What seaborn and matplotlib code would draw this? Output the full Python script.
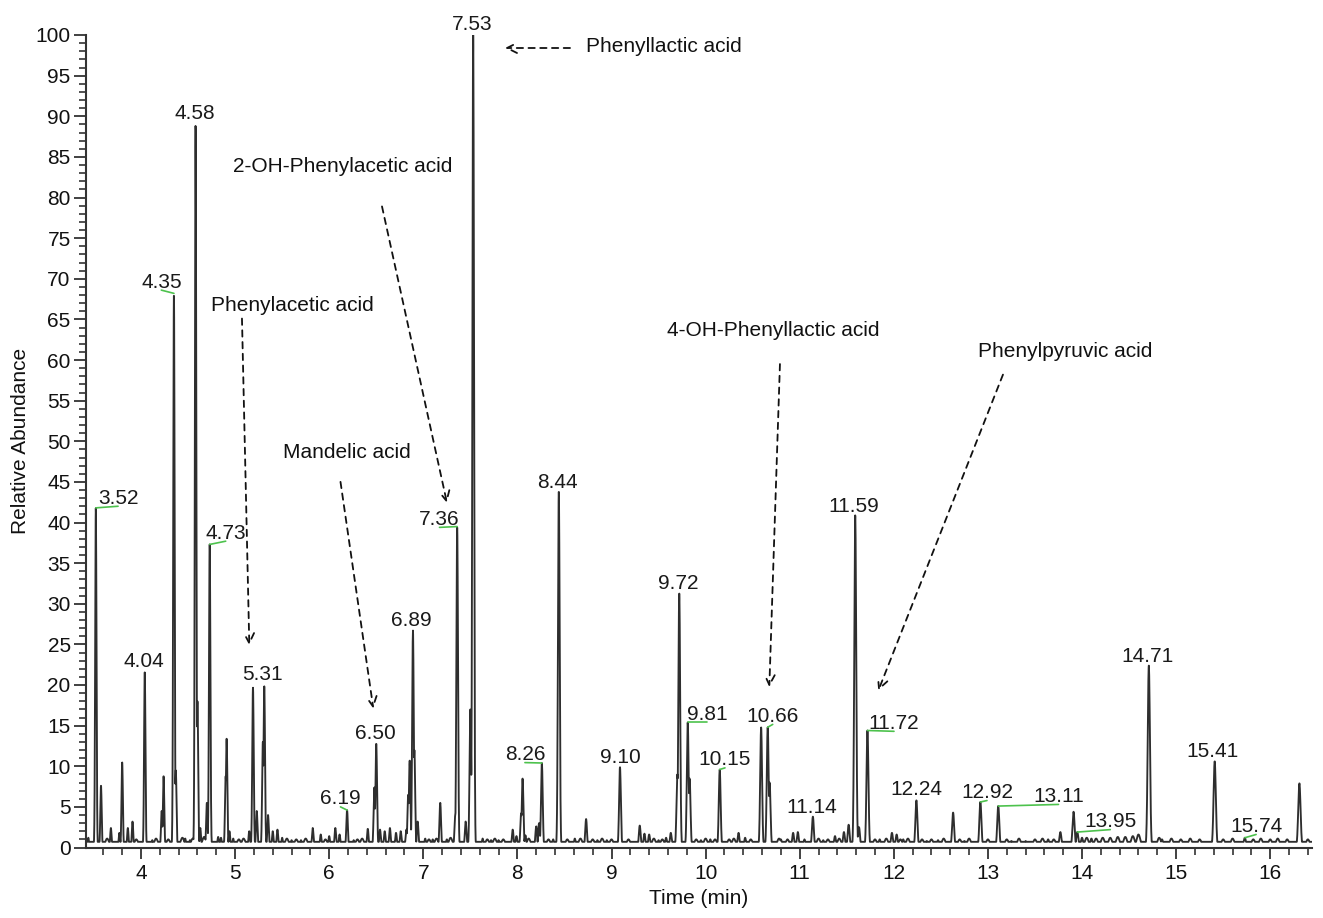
import numpy as np
import pandas as pd
import matplotlib
matplotlib.use("Agg")
import matplotlib.pyplot as plt
from matplotlib.ticker import MultipleLocator
import seaborn as sns

# ---------------- data ----------------
peak_times = [3.44, 3.52, 3.575, 3.68, 3.77, 3.80, 3.86, 3.91, 4.04, 4.12,
              4.22, 4.24, 4.35, 4.37, 4.47, 4.52, 4.58, 4.60, 4.63, 4.70,
              4.73, 4.82, 4.85, 4.90, 4.91, 4.94, 4.98, 5.15, 5.19, 5.23,
              5.295, 5.31, 5.35, 5.40, 5.45, 5.50, 5.60, 5.70, 5.825, 5.91,
              6.00, 6.065, 6.11, 6.19, 6.26, 6.41, 6.48, 6.50, 6.54, 6.59,
              6.645, 6.71, 6.76, 6.82, 6.84, 6.855, 6.89, 6.905, 6.94, 7.02,
              7.10, 7.18, 7.25, 7.34, 7.36, 7.45, 7.50, 7.53, 7.63, 7.72,
              7.80, 7.95, 7.99, 8.04, 8.055, 8.085, 8.20, 8.23, 8.26, 8.38,
              8.44, 8.61, 8.73, 8.85, 8.95, 9.09, 9.30, 9.35, 9.40, 9.50,
              9.58, 9.63, 9.70, 9.72, 9.81, 9.83, 9.95, 10.05, 10.15, 10.35,
              10.42, 10.59, 10.66, 10.68, 10.80, 10.93, 10.98, 11.05, 11.14, 11.25,
              11.375, 11.47, 11.52, 11.59, 11.63, 11.72, 11.85, 11.98, 12.03, 12.10,
              12.24, 12.35, 12.47, 12.63, 12.75, 12.92, 13.11, 13.25, 13.40, 13.64,
              13.77, 13.91, 13.95, 14.00, 14.10, 14.71, 14.85, 15.41, 15.73, 16.31]
peak_heights = [1.2, 41.8, 7.6, 2.4, 1.8, 10.5, 2.4, 3.2, 21.6, 0.9,
                4.5, 8.8, 68.2, 9.5, 1.1, 0.9, 89.0, 18.0, 2.4, 5.5,
                37.3, 1.3, 1.2, 8.8, 13.4, 2.0, 1.1, 2.0, 19.7, 4.5,
                13.0, 19.9, 4.0, 2.0, 2.2, 1.2, 0.9, 0.9, 2.4, 1.6,
                1.4, 2.4, 1.6, 4.6, 0.9, 2.3, 7.4, 12.8, 2.2, 2.0,
                2.4, 1.8, 2.0, 2.2, 6.5, 10.7, 26.7, 12.0, 3.2, 1.1,
                1.0, 5.5, 1.0, 4.0, 39.5, 3.2, 17.0, 100.0, 1.1, 0.9,
                0.9, 2.2, 1.4, 4.2, 8.5, 1.5, 2.6, 3.0, 10.4, 1.0,
                43.9, 1.1, 3.5, 0.9, 0.9, 9.9, 2.7, 1.7, 1.6, 0.9,
                1.2, 1.8, 9.0, 31.3, 15.4, 8.5, 0.9, 1.0, 9.6, 1.8,
                1.2, 14.8, 14.8, 8.0, 1.0, 1.8, 1.9, 1.0, 3.8, 0.9,
                1.4, 1.9, 2.8, 40.9, 2.5, 14.4, 1.0, 1.8, 1.6, 1.0,
                5.8, 0.8, 0.9, 4.3, 0.8, 5.6, 5.1, 0.8, 0.8, 1.0,
                1.9, 4.4, 1.9, 1.2, 1.1, 22.4, 1.0, 10.6, 1.2, 7.9]
# low ripples of the baseline (time, height)
ripple_times = [3.64, 3.95, 4.16, 4.29, 4.44, 4.55, 4.67, 5.04, 5.09, 5.55,
                5.65, 5.75, 5.96, 6.30, 6.35, 7.06, 7.14, 7.29, 7.68, 7.76,
                7.85, 8.12, 8.33, 8.53, 8.67, 8.80, 8.90, 9.00, 9.18, 9.45,
                9.54, 9.90, 10.00, 10.10, 10.25, 10.30, 10.48, 10.78, 10.87, 11.20,
                11.30, 11.42, 11.80, 11.92, 12.07, 12.15, 12.30, 12.40, 12.53, 12.70,
                12.80, 13.00, 13.20, 13.33, 13.50, 13.58, 13.70, 14.05, 14.15, 14.22,
                14.30, 14.38, 14.46, 14.54, 14.60, 14.82, 14.95, 15.05, 15.15, 15.25,
                15.50, 15.60, 15.82, 15.90, 16.00, 16.08, 16.18, 16.40]
ripple_heights = [1.1, 1.0, 1.1, 1.0, 1.2, 1.1, 1.3, 1.0, 1.1, 1.1,
                  1.0, 1.1, 1.0, 1.0, 1.1, 1.0, 1.1, 1.2, 1.0, 1.1,
                  1.0, 1.1, 1.0, 1.0, 1.1, 1.0, 1.1, 1.0, 1.0, 1.1,
                  1.0, 1.0, 1.1, 1.0, 1.0, 1.1, 1.0, 1.1, 1.0, 1.1,
                  1.0, 1.1, 1.0, 1.1, 1.0, 1.1, 1.0, 1.0, 1.1, 1.0,
                  1.1, 1.0, 1.0, 1.1, 1.0, 1.1, 1.0, 1.2, 1.1, 1.2,
                  1.2, 1.3, 1.3, 1.4, 1.6, 1.2, 1.1, 1.0, 1.1, 1.0,
                  1.0, 1.1, 1.0, 1.1, 1.0, 1.1, 1.0, 1.0]
baseline_level = 0.7

# labelled retention times: label text, peak time, peak height
label_texts = ["3.52", "4.04", "4.35", "4.58", "4.73", "5.31", "6.19", "6.50",
               "6.89", "7.36", "7.53", "8.26", "8.44", "9.10", "9.72", "9.81",
               "10.15", "10.66", "11.14", "11.59", "11.72", "12.24", "12.92",
               "13.11", "13.95", "14.71", "15.41", "15.74"]
label_peak_t = [3.52, 4.04, 4.35, 4.58, 4.73, 5.31, 6.19, 6.50,
                6.89, 7.36, 7.53, 8.26, 8.44, 9.09, 9.72, 9.81,
                10.15, 10.66, 11.14, 11.59, 11.72, 12.24, 12.92,
                13.11, 13.95, 14.71, 15.41, 15.73]
label_peak_h = [41.8, 21.6, 68.2, 89.0, 37.3, 19.9, 4.6, 12.8,
                26.7, 39.5, 100.0, 10.4, 43.9, 9.9, 31.3, 15.4,
                9.6, 14.8, 3.8, 40.9, 14.4, 5.8, 5.6,
                5.1, 1.9, 22.4, 10.6, 1.2]
label_has_leader = [True, False, True, False, True, False, True, False,
                    False, True, False, True, False, False, False, True,
                    True, True, False, False, True, False, True,
                    True, True, False, False, True]

compound_names = ["Phenyllactic acid", "2-OH-Phenylacetic acid", "Phenylacetic acid",
                  "Mandelic acid", "4-OH-Phenyllactic acid", "Phenylpyruvic acid"]

# ---------------- layout (label placement) ----------------
label_pos = [(3.756, 42.3), (4.03, 22.2), (4.216, 68.9), (4.574, 89.7), (4.90, 38.0),
             (5.29, 20.6), (6.12, 5.3), (6.487, 13.3), (6.877, 27.2), (7.172, 39.7),
             (7.52, 100.6), (8.08, 10.75), (8.426, 44.3), (9.09, 10.4), (9.712, 31.8),
             (10.02, 15.7), (10.206, 10.1), (10.713, 15.45), (11.13, 4.3), (11.577, 41.3),
             (12.002, 14.6), (12.236, 6.45), (12.99, 6.08), (13.75, 5.6), (14.30, 2.5),
             (14.696, 22.8), (15.39, 11.1), (15.85, 1.9)]
# name text centre, arrow start, arrow end (data coordinates)
name_text_pos = [(9.56, 98.6), (6.141, 83.8), (5.605, 66.7), (6.186, 48.6),
                 (10.716, 63.6), (13.82, 61.1)]
arrow_start = [(8.559, 98.4), (6.561, 78.9), (5.073, 65.1), (6.12, 45.0),
               (10.79, 59.5), (13.16, 58.2)]
arrow_end = [(7.868, 98.4), (7.252, 42.4), (5.151, 24.9), (6.469, 17.1),
             (10.677, 19.75), (11.835, 19.3)]

# ---------------- build the trace from the peak table ----------------
t = np.linspace(3.4155, 16.444, 9000)
profiles = [np.full_like(t, baseline_level)]
for pt, ph in zip(ripple_times, ripple_heights):
    profiles.append(ph * np.exp(-0.5 * ((t - pt) / 0.02) ** 2))
for pt, ph in zip(peak_times, peak_heights):
    sig = 0.0055 + 0.00042 * pt
    profiles.append(ph * np.exp(-0.5 * ((t - pt) / sig) ** 2))
signal = np.max(np.vstack(profiles), axis=0)
df = pd.DataFrame({"Time (min)": t, "Relative Abundance": signal})

# ---------------- draw ----------------
sns.set_theme(style="ticks")
plt.rcParams["font.family"] = ["Liberation Sans", "DejaVu Sans"]

W, H = 1323, 918
fig = plt.figure(figsize=(W / 100, H / 100), dpi=100)
ax = fig.add_axes([86 / W, 1 - 847.5 / H, (1312 - 86) / W, (847.5 - 35) / H])

sns.lineplot(data=df, x="Time (min)", y="Relative Abundance", ax=ax,
             color="#2e2e2e", linewidth=1.35, estimator=None, sort=False)

ax.set_xlim(3.4155, 16.444)
ax.set_ylim(0, 100)
ax.set_xticks(range(4, 17))
ax.set_yticks(range(0, 101, 5))
ax.xaxis.set_minor_locator(MultipleLocator(0.2))
ax.yaxis.set_minor_locator(MultipleLocator(1))
ax.tick_params(axis="both", which="major", labelsize=15, colors="#333333",
               width=1.3, labelcolor="#111111")
ax.tick_params(axis="x", which="major", length=8, pad=4)
ax.tick_params(axis="y", which="major", length=9, pad=2)
ax.tick_params(axis="both", which="minor", length=5, width=1.2, colors="#333333")
for s in ["top", "right"]:
    ax.spines[s].set_visible(False)
for s in ["left", "bottom"]:
    ax.spines[s].set_color("#333333")
    ax.spines[s].set_linewidth(1.5)

ax.set_xlabel("Time (min)", fontsize=15, color="#111111", labelpad=4)
ax.set_ylabel("Relative Abundance", fontsize=15, color="#111111", labelpad=4)

for txt, pt, ph, lead, (lx, ly) in zip(label_texts, label_peak_t, label_peak_h,
                                       label_has_leader, label_pos):
    ax.text(lx, ly, txt, ha="center", va="baseline", fontsize=15,
            color="#1a1a1a", clip_on=False)
    if lead:
        ax.plot([pt, lx], [ph, ly - 0.3], color="#4dc24d", lw=1.2, clip_on=False)

for name, (nx, ny), st, en in zip(compound_names, name_text_pos, arrow_start, arrow_end):
    ax.text(nx, ny, name, ha="center", va="center", fontsize=15, color="#111111")
    ax.annotate("", xy=en, xytext=st,
                arrowprops=dict(arrowstyle="->", linestyle=(0, (3.5, 3)), color="#111111",
                                lw=1.3, mutation_scale=18, shrinkA=0, shrinkB=0))

fig.savefig("out.png", dpi=100)
